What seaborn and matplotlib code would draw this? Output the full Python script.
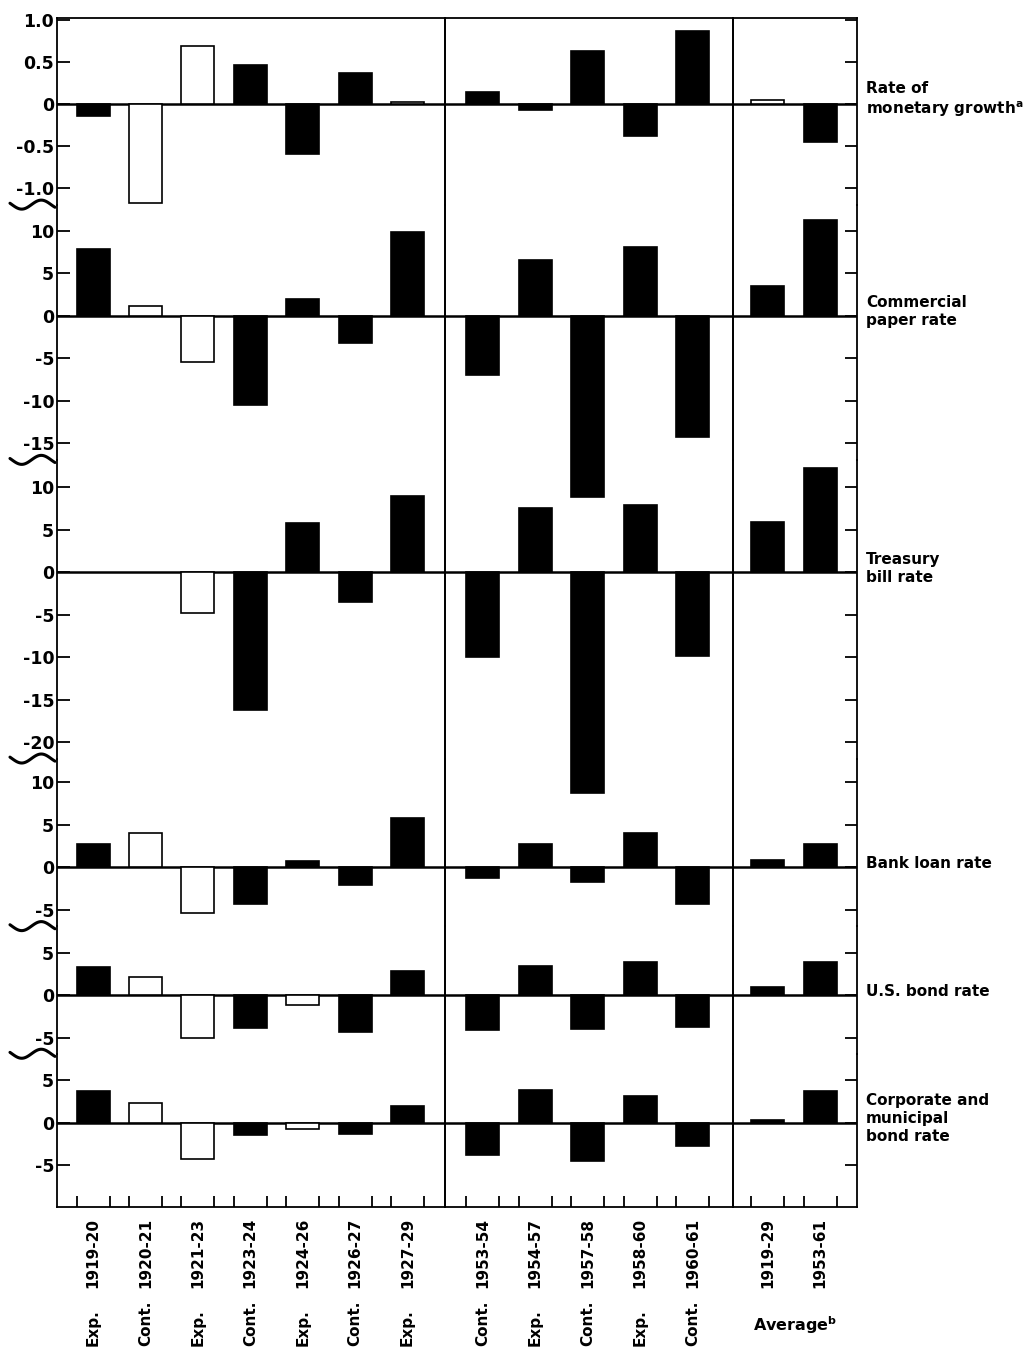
import numpy as np
import pandas as pd
import matplotlib
matplotlib.use("Agg")
import matplotlib.pyplot as plt
import seaborn as sns
from matplotlib.ticker import FixedLocator

# cycle phases and periods
phases = ["Exp.", "Cont.", "Exp.", "Cont.", "Exp.", "Cont.", "Exp.",
          "Cont.", "Exp.", "Cont.", "Exp.", "Cont.", "", ""]
periods = ["1919-20", "1920-21", "1921-23", "1923-24", "1924-26", "1926-27", "1927-29",
           "1953-54", "1954-57", "1957-58", "1958-60", "1960-61",
           "1919-29", "1953-61"]
groups = ["interwar"] * 7 + ["postwar"] * 5 + ["average"] * 2
group_order = ["interwar", "postwar", "average"]

# values per series, B = solid bar, W = open bar
money_growth = [-0.15, -1.18, 0.69, 0.46, -0.60, 0.36, 0.02, 0.14, -0.08, 0.63, -0.38, 0.86, 0.05, -0.45]
money_fill = list("BWWBBBWBBBBBWB")
commercial_paper = [7.8, 1.1, -5.4, -10.5, 2.0, -3.2, 9.8, -7.0, 6.6, -21.3, 8.1, -14.2, 3.5, 11.2]
commercial_fill = list("BWWBBBBBBBBBBB")
treasury_bill = [np.nan, np.nan, -4.8, -16.2, 5.8, -3.5, 9.0, -10.0, 7.6, -26.0, 7.9, -9.8, 5.9, 12.3]
treasury_fill = list("BBWBBBBBBBBBBB")
bank_loan = [2.8, 4.0, -5.4, -4.3, 0.7, -2.1, 5.8, -1.3, 2.8, -1.7, 4.0, -4.3, 0.9, 2.7]
bank_fill = list("BWWBBBBBBBBBBB")
us_bond = [3.3, 2.1, -5.0, -3.9, -1.2, -4.3, 2.8, -4.1, 3.4, -4.0, 3.9, -3.7, 0.9, 3.9]
us_bond_fill = list("BWWBWBBBBBBBBB")
corp_bond = [3.7, 2.3, -4.3, -1.4, -0.8, -1.3, 2.0, -3.8, 3.8, -4.5, 3.1, -2.7, 0.3, 3.7]
corp_fill = list("BWWBWBBBBBBBBB")

panel_names = ["Rate of\nmonetary growth$^{\\mathbf{a}}$", "Commercial\npaper rate",
               "Treasury\nbill rate", "Bank loan rate", "U.S. bond rate",
               "Corporate and\nmunicipal\nbond rate"]
panel_values = [money_growth, commercial_paper, treasury_bill, bank_loan, us_bond, corp_bond]
panel_fills = [money_fill, commercial_fill, treasury_fill, bank_fill, us_bond_fill, corp_fill]

panel_limits = [(-1.2, 1.02), (-16.94, 13.06), (-21.9, 13.2), (-6.9, 12.8), (-6.9, 8.1), (-9.9, 8.1)]
panel_ticks = [[1.0, 0.5, 0, -0.5, -1.0], [10, 5, 0, -5, -10, -15],
               [10, 5, 0, -5, -10, -15, -20], [10, 5, 0, -5], [5, 0, -5], [5, 0, -5]]
panel_ticklabels = [["1.0", "0.5", "0", "-0.5", "-1.0"], ["10", "5", "0", "-5", "-10", "-15"],
                    ["10", "5", "0", "-5", "-10", "-15", "-20"], ["10", "5", "0", "-5"],
                    ["5", "0", "-5"], ["5", "0", "-5"]]

frames = []
for name, vals, fills in zip(panel_names, panel_values, panel_fills):
    frames.append(pd.DataFrame({"panel": name, "group": groups, "period": periods,
                                "phase": phases, "value": vals, "fill": fills}))
df = pd.concat(frames, ignore_index=True)

sns.set_style("white")
plt.rcParams["font.family"] = ["DejaVu Sans"]
plt.rcParams["font.weight"] = "bold"
plt.rcParams["mathtext.default"] = "bf"
for key in ["text.color", "xtick.color", "ytick.color", "axes.labelcolor"]:
    plt.rcParams[key] = "black"

heights = [(hi - lo) * (84 if i == 0 else 8.5) for i, (lo, hi) in enumerate(panel_limits)]
xlims = [(-0.69, 6.72), (-0.72, 4.78), (-0.66, 1.7)]
widths = [b - a for a, b in xlims]

fig, axes = plt.subplots(6, 3, figsize=(10.34, 13.5), dpi=100, sharey="row",
                         gridspec_kw=dict(width_ratios=widths, height_ratios=heights,
                                          wspace=0, hspace=0))
fig.subplots_adjust(left=0.0551, right=0.8288, top=0.9867, bottom=0.106)

lw = 1.3
for r, name in enumerate(panel_names):
    for c, grp in enumerate(group_order):
        ax = axes[r, c]
        ax.set_facecolor("none")
        sub = df[(df.panel == name) & (df.group == grp)]
        order = [p for p, g in zip(periods, groups) if g == grp]
        sns.barplot(data=sub.dropna(subset=["value"]), x="period", y="value", hue="fill",
                    hue_order=["B", "W"], palette={"B": "black", "W": "white"},
                    order=order, dodge=False, width=0.63, edgecolor="black",
                    linewidth=1.2, errorbar=None, legend=False, ax=ax)
        for p in ax.patches:
            p.set_clip_on(False)
        ax.axhline(0, color="black", lw=1.8, zorder=0.5)
        ax.set_xlim(*xlims[c])
        ax.set_xlabel("")
        ax.set_ylabel("")
        for side in ["left", "right", "top", "bottom"]:
            ax.spines[side].set_color("black")
            ax.spines[side].set_linewidth(lw)
        ax.spines["top"].set_visible(r == 0)
        ax.spines["bottom"].set_visible(r == 5)
        ax.spines["left"].set_visible(True)
        ax.spines["right"].set_visible(True)

        if r == 5:
            centers = np.arange(len(order))
            ax.xaxis.set_minor_locator(FixedLocator(np.concatenate([centers - 0.315, centers + 0.315])))
            ax.tick_params(axis="x", which="minor", direction="in", length=8, width=lw, bottom=True)
            ax.tick_params(axis="x", which="major", length=0, pad=8, labelsize=11, rotation=90)
            if grp != "average":
                for i, ph in enumerate(sub["phase"].tolist()):
                    ax.text(i, -0.905, ph, transform=ax.get_xaxis_transform(), rotation=90,
                            ha="center", va="bottom", fontsize=11, fontweight="bold")
            else:
                ax.text(0.5, -0.77, "Average$^{\\mathbf{b}}$", transform=ax.transAxes,
                        ha="center", va="center", fontsize=11.5, fontweight="bold")
        else:
            ax.tick_params(axis="x", which="both", bottom=False, labelbottom=False)

    a0 = axes[r, 0]
    a0.set_ylim(*panel_limits[r])
    a0.set_yticks(panel_ticks[r])
    a0.set_yticklabels(panel_ticklabels[r])
    a0.tick_params(axis="y", direction="in", length=9, width=lw, left=True, right=False,
                   labelsize=12.5, pad=2)
    axes[r, 1].tick_params(axis="y", left=False, right=False, labelleft=False)
    axes[r, 2].tick_params(axis="y", direction="in", length=9, width=lw, left=False,
                           right=True, labelleft=False)

    # series label on the right
    axes[r, 2].annotate(name, xy=(1.0, 0), xycoords=axes[r, 2].get_yaxis_transform(),
                        xytext=(9, 4), textcoords="offset pixels", ha="left", va="center",
                        fontsize=11, fontweight="bold", linespacing=1.25,
                        annotation_clip=False)

# axis break marks between panels
fig.canvas.draw()
for r in range(5):
    pos = axes[r, 0].get_position()
    t = np.linspace(0, 1, 60)
    xs = pos.x0 - (47 - 45 * t) / 1034
    ys = pos.y0 + (4.5 / 1350) * np.sin(2 * np.pi * 1.15 * t + np.pi * 0.9)
    fig.add_artist(plt.Line2D(xs, ys, color="black", lw=2.2, transform=fig.transFigure))

fig.savefig("out.png", dpi=100, facecolor="white")
